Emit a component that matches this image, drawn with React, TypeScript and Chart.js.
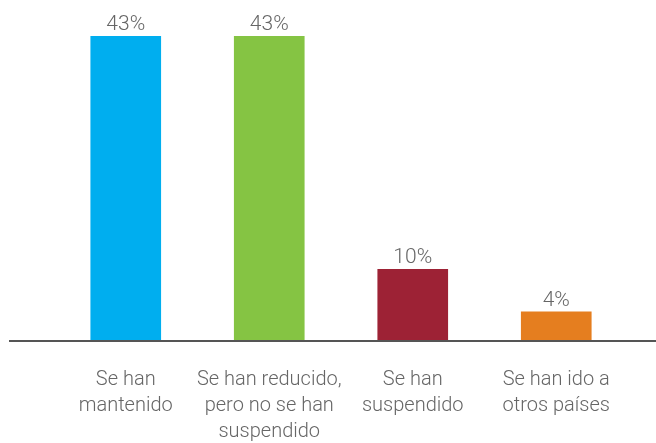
import React, { useEffect, useRef } from "react";
import { Chart, registerables } from "chart.js";

Chart.register(...registerables);

const categories: string[][] = [
  ["Se han", "mantenido"],
  ["Se han reducido,", "pero no se han", "suspendido"],
  ["Se han", "suspendido"],
  ["Se han ido a", "otros países"],
];
const values: number[] = [43, 43, 10, 4];
const barColors: string[] = ["#00AEEF", "#85C443", "#9D2235", "#E57E1F"];
const valueLabels: string[] = values.map((v) => `${v}%`);

const FONT = "Roboto, sans-serif";
const TEXT = "#666666";

const overlay = {
  id: "overlay",
  afterDatasetsDraw(chart: any) {
    const { ctx, chartArea } = chart;
    const meta = chart.getDatasetMeta(0);
    ctx.save();
    ctx.strokeStyle = "#555555";
    ctx.lineWidth = 2;
    ctx.beginPath();
    ctx.moveTo(9, chartArea.bottom + 1);
    ctx.lineTo(chart.width, chartArea.bottom + 1);
    ctx.stroke();
    ctx.fillStyle = TEXT;
    ctx.font = `300 21px ${FONT}`;
    ctx.textAlign = "center";
    ctx.textBaseline = "alphabetic";
    meta.data.forEach((bar: any, i: number) => {
      ctx.fillText(valueLabels[i], bar.x, bar.y - 6);
    });
    ctx.restore();
  },
};

export default function App() {
  const ref = useRef<HTMLCanvasElement>(null);
  useEffect(() => {
    document.body.style.margin = "0";
    const chart = new Chart(ref.current!, {
      type: "bar",
      data: {
        labels: categories,
        datasets: [
          {
            data: values,
            backgroundColor: barColors,
            barThickness: 70,
          },
        ],
      },
      options: {
        animation: false,
        responsive: false,
        maintainAspectRatio: false,
        layout: { padding: { left: 54, right: 28, top: 36, bottom: 0 } },
        plugins: { legend: { display: false }, tooltip: { enabled: false } },
        scales: {
          x: {
            grid: { display: false, drawTicks: false },
            border: { display: false },
            ticks: {
              color: TEXT,
              font: { family: FONT, size: 20, weight: "300", lineHeight: 1.3 },
              padding: 27,
              maxRotation: 0,
              autoSkip: false,
            },
            afterFit(scale: any) {
              scale.height = 103;
            },
          },
          y: {
            display: false,
            min: 0,
            max: 43,
          },
        },
      },
      plugins: [overlay],
    });
    return () => chart.destroy();
  }, []);
  return <canvas ref={ref} width={656} height={443} style={{ display: "block" }} />;
}
